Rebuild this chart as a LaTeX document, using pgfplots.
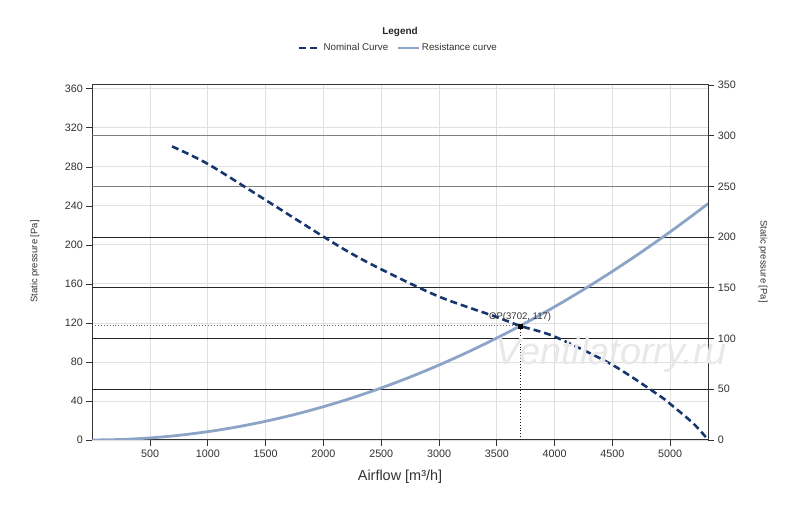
\documentclass[border=0pt]{standalone}
\usepackage{fontspec}
\setmainfont{Liberation Sans}
\usepackage{pgfplots}
\pgfplotsset{compat=1.18}
\definecolor{nomc}{RGB}{24,54,110}
\definecolor{resc}{RGB}{140,164,198}
\definecolor{tick}{RGB}{50,50,50}
\begin{document}
\begin{tikzpicture}[x=1bp,y=1bp]
\useasboundingbox (0,0) rectangle (800,507);
\begin{axis}[
  at={(92.3bp,67bp)}, anchor=south west,
  width=616bp, height=355bp, scale only axis,
  xmin=0, xmax=5330, ymin=0, ymax=364,
  xtick={500,1000,...,5000}, ytick={0,40,...,360},
  tick pos=left, tick align=outside,
  major tick length=6bp,
  tick style={black!80, line width=0.8bp},
  axis line style={black!80, line width=1bp},
  grid=major, major grid style={color=black!12, line width=0.9bp},
  /pgf/number format/assume math mode=true,
  /pgf/number format/1000 sep={},
  ticklabel style={font=\fontsize{10.8}{12}\selectfont, text=tick},
  legend style={at={(0.497,1.104)}, anchor=center, draw=none, fill=none,
    font=\fontsize{9.8}{11}\selectfont, text=tick,
    /tikz/every even column/.append style={column sep=6bp}},
  legend columns=2,
  legend image code/.code={\draw[#1] (0bp,0bp) -- (21bp,0bp);},
]
% horizontal grid lines of the right axis (50..300 Pa on right scale)
\addplot[forget plot, black!50, line width=1.3bp] coordinates {(0,312) (5330,312)};
\addplot[forget plot, black!50, line width=1.3bp] coordinates {(0,260) (5330,260)};
\addplot[forget plot, black!85, line width=1.2bp] coordinates {(0,208) (5330,208)};
\addplot[forget plot, black!85, line width=1.2bp] coordinates {(0,156) (5330,156)};
\addplot[forget plot, black!85, line width=1.2bp] coordinates {(0,104) (5330,104)};
\addplot[forget plot, black!85, line width=1.2bp] coordinates {(0,52) (5330,52)};
% operating point guides
\addplot[forget plot, black!60, dotted, line width=0.9bp] coordinates {(0,117) (3702,117)};
\addplot[forget plot, black!90, dotted, line width=0.9bp] coordinates {(3702,0) (3702,117)};
% nominal curve
\addplot[nomc, line width=2.6bp, dash pattern=on 7bp off 4bp, smooth] coordinates {
 (690,301) (1000,283) (1500,246) (2000,208.5) (2230,192) (2500,175) (3000,147)
 (3500,126) (3702,117) (4000,106) (4500,77) (4900,46) (5000,37) (5200,17) (5330,0)};
\addlegendentry{Nominal Curve}
% resistance curve
\addplot[resc, line width=2.8bp, smooth] coordinates {
 (0,0) (250,0.53) (500,2.13) (750,4.80) (1000,8.54) (1250,13.34) (1500,19.21)
 (1750,26.14) (2000,34.15) (2250,43.22) (2500,53.36) (2750,64.56) (3000,76.83)
 (3250,90.17) (3500,104.58) (3702,117) (4000,136.59) (4250,154.20) (4500,172.87)
 (4750,192.61) (5000,213.43) (5250,235.30) (5330,242.53)};
\addlegendentry{Resistance curve}
\addplot[forget plot, only marks, mark=square*, mark size=2bp, black] coordinates {(3702,117)};
\node[anchor=south, font=\fontsize{9.6}{11}\selectfont, text=tick, inner sep=1bp, yshift=3bp] at (axis cs:3702,117) {OP(3702, 117)};
\end{axis}
\begin{axis}[
  at={(92.3bp,67bp)}, anchor=south west,
  width=616bp, height=355bp, scale only axis,
  xmin=0, xmax=5330, ymin=0, ymax=350,
  axis x line=none, axis y line*=right,
  ytick={0,50,...,350},
  tick align=outside, major tick length=6bp,
  tick style={black!80, line width=0.8bp},
  axis line style={black!80, line width=1bp},
  /pgf/number format/assume math mode=true,
  ticklabel style={font=\fontsize{10.8}{12}\selectfont, text=tick},
]
\addplot[draw=none, forget plot] coordinates {(0,0) (5330,350)};
\end{axis}
\node[font=\bfseries\fontsize{10}{12}\selectfont, text=black!85] at (400,475) {Legend};
\node[rotate=90, font=\fontsize{9.5}{11}\selectfont, text=tick] at (35,245.5) {Static pressure [Pa]};
\node[rotate=-90, font=\fontsize{9.5}{11}\selectfont, text=tick] at (763,245.5) {Static pressure [Pa]};
\node[font=\fontsize{14.5}{16}\selectfont, text=tick] at (400,30) {Airflow [m³/h]};
\node[anchor=base, font=\itshape\fontsize{38}{40}\selectfont, text=black!9] at (611,142) {Ventilatorry.ru};
\end{tikzpicture}
\end{document}
